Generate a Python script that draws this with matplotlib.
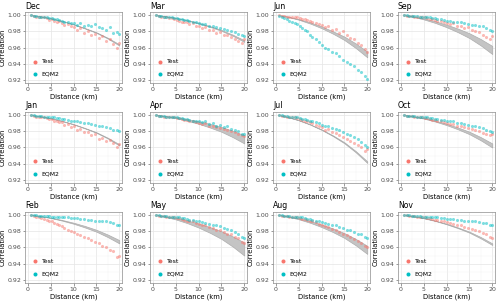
import matplotlib
matplotlib.use("Agg")
import matplotlib.pyplot as plt
from matplotlib.ticker import MultipleLocator

# panel order, row by row
months = ["Dec", "Mar", "Jun", "Sep",
          "Jan", "Apr", "Jul", "Oct",
          "Feb", "May", "Aug", "Nov"]

# station-pair distances (km), shared by all panels
dist = [0.8, 1.3, 1.9, 2.4, 3.0, 3.5, 4.1, 4.6, 5.2, 5.7, 6.3, 6.8, 7.4, 8.0, 8.7,
        9.4, 10.1, 10.8, 11.5, 12.3, 13.1, 13.9, 14.7, 15.5, 16.3, 17.1, 17.9, 18.7, 19.4, 19.9]

test = {
    "Dec": [0.9995,0.999,0.998,0.998,0.997,0.997,0.996,0.994,0.995,0.993,0.992,0.993,0.990,0.988,0.989,0.986,0.985,0.982,0.984,0.978,0.980,0.975,0.977,0.972,0.974,0.968,0.970,0.964,0.960,0.966],
    "Mar": [0.9995,0.999,0.998,0.998,0.997,0.996,0.996,0.995,0.994,0.993,0.992,0.991,0.992,0.989,0.990,0.986,0.987,0.984,0.985,0.981,0.982,0.978,0.979,0.976,0.975,0.973,0.971,0.968,0.965,0.970],
    "Jun": [1.000,0.999,0.999,0.998,0.998,0.998,0.997,0.997,0.996,0.995,0.995,0.994,0.993,0.992,0.990,0.989,0.988,0.985,0.986,0.982,0.983,0.978,0.980,0.975,0.972,0.970,0.966,0.963,0.958,0.955],
    "Sep": [1.000,0.999,0.999,0.999,0.998,0.998,0.998,0.997,0.997,0.996,0.995,0.995,0.994,0.993,0.993,0.991,0.990,0.989,0.990,0.986,0.987,0.984,0.985,0.982,0.980,0.979,0.976,0.973,0.970,0.974],
    "Jan": [0.9995,0.999,0.998,0.998,0.997,0.997,0.996,0.995,0.995,0.993,0.993,0.991,0.991,0.988,0.989,0.985,0.986,0.982,0.983,0.979,0.979,0.975,0.976,0.971,0.972,0.968,0.969,0.965,0.961,0.964],
    "Apr": [1.000,0.999,0.999,0.998,0.998,0.998,0.997,0.997,0.996,0.996,0.995,0.994,0.994,0.993,0.992,0.991,0.990,0.989,0.990,0.987,0.987,0.985,0.984,0.983,0.982,0.980,0.979,0.977,0.975,0.974],
    "Jul": [1.000,0.999,0.999,0.998,0.998,0.997,0.997,0.996,0.995,0.994,0.993,0.992,0.991,0.990,0.988,0.986,0.985,0.982,0.983,0.979,0.978,0.975,0.973,0.970,0.968,0.965,0.963,0.960,0.956,0.958],
    "Oct": [1.000,0.999,0.999,0.999,0.998,0.998,0.997,0.997,0.996,0.996,0.995,0.994,0.994,0.993,0.992,0.991,0.990,0.989,0.989,0.987,0.987,0.985,0.984,0.983,0.982,0.980,0.978,0.977,0.975,0.976],
    "Feb": [0.9995,0.999,0.998,0.997,0.996,0.995,0.994,0.993,0.992,0.990,0.989,0.987,0.986,0.984,0.982,0.980,0.979,0.977,0.975,0.973,0.971,0.969,0.967,0.965,0.962,0.960,0.957,0.955,0.948,0.950],
    "May": [1.000,0.999,0.999,0.999,0.998,0.998,0.997,0.997,0.996,0.996,0.995,0.994,0.993,0.993,0.992,0.990,0.989,0.988,0.987,0.985,0.984,0.982,0.981,0.979,0.977,0.976,0.973,0.971,0.967,0.966],
    "Aug": [1.000,0.999,0.999,0.999,0.998,0.998,0.997,0.997,0.996,0.995,0.995,0.994,0.993,0.992,0.991,0.989,0.988,0.986,0.985,0.983,0.981,0.979,0.977,0.975,0.973,0.970,0.968,0.966,0.962,0.960],
    "Nov": [1.000,1.000,0.999,0.999,0.999,0.998,0.998,0.997,0.997,0.996,0.996,0.995,0.994,0.994,0.993,0.992,0.991,0.990,0.989,0.988,0.987,0.985,0.984,0.983,0.981,0.980,0.978,0.976,0.973,0.971],
}

eqm2 = {
    "Dec": [0.9995,0.999,0.999,0.998,0.998,0.997,0.997,0.996,0.996,0.995,0.995,0.994,0.993,0.992,0.992,0.990,0.990,0.988,0.990,0.987,0.988,0.986,0.989,0.985,0.984,0.982,0.985,0.978,0.979,0.977],
    "Mar": [1.000,0.999,0.999,0.998,0.998,0.997,0.997,0.996,0.996,0.995,0.995,0.994,0.994,0.993,0.992,0.991,0.990,0.989,0.989,0.987,0.986,0.985,0.984,0.983,0.982,0.980,0.979,0.977,0.975,0.974],
    "Jun": [0.999,0.998,0.996,0.995,0.993,0.992,0.990,0.989,0.986,0.984,0.982,0.980,0.976,0.973,0.970,0.967,0.963,0.960,0.958,0.955,0.953,0.950,0.945,0.942,0.940,0.937,0.932,0.930,0.925,0.921],
    "Sep": [1.000,1.000,0.999,0.999,0.999,0.999,0.998,0.998,0.998,0.997,0.997,0.996,0.996,0.995,0.995,0.994,0.993,0.993,0.992,0.991,0.991,0.990,0.989,0.988,0.988,0.986,0.986,0.984,0.982,0.980],
    "Jan": [1.000,1.000,0.999,0.999,0.999,0.998,0.998,0.998,0.997,0.997,0.996,0.996,0.995,0.995,0.994,0.993,0.993,0.992,0.991,0.990,0.990,0.989,0.988,0.987,0.986,0.985,0.984,0.982,0.981,0.980],
    "Apr": [1.000,0.999,0.999,0.999,0.998,0.998,0.998,0.997,0.997,0.996,0.996,0.995,0.995,0.994,0.993,0.993,0.992,0.991,0.992,0.989,0.990,0.987,0.988,0.985,0.986,0.983,0.982,0.980,0.977,0.976],
    "Jul": [1.000,1.000,0.999,0.999,0.998,0.998,0.997,0.997,0.996,0.995,0.995,0.994,0.993,0.992,0.991,0.990,0.988,0.987,0.986,0.984,0.983,0.981,0.979,0.977,0.975,0.973,0.970,0.967,0.963,0.961],
    "Oct": [1.000,0.999,0.999,0.999,0.999,0.998,0.998,0.998,0.997,0.997,0.996,0.996,0.995,0.995,0.994,0.994,0.993,0.992,0.992,0.990,0.990,0.989,0.988,0.987,0.986,0.985,0.984,0.982,0.980,0.979],
    "Feb": [1.000,1.000,1.000,0.999,0.999,0.999,0.999,0.999,0.998,0.998,0.998,0.998,0.997,0.997,0.997,0.996,0.996,0.996,0.995,0.995,0.994,0.994,0.993,0.993,0.992,0.992,0.991,0.990,0.988,0.987],
    "May": [1.000,1.000,0.999,0.999,0.999,0.998,0.998,0.998,0.997,0.997,0.996,0.996,0.995,0.994,0.994,0.993,0.992,0.991,0.990,0.989,0.988,0.987,0.986,0.984,0.983,0.981,0.979,0.977,0.973,0.971],
    "Aug": [1.000,1.000,0.999,0.999,0.999,0.998,0.998,0.998,0.997,0.997,0.996,0.995,0.995,0.994,0.993,0.992,0.991,0.990,0.989,0.988,0.987,0.985,0.984,0.982,0.981,0.979,0.977,0.976,0.973,0.972],
    "Nov": [1.000,1.000,1.000,0.999,0.999,0.999,0.999,0.998,0.998,0.998,0.998,0.997,0.997,0.997,0.996,0.996,0.995,0.995,0.995,0.994,0.994,0.993,0.993,0.992,0.992,0.991,0.990,0.990,0.988,0.987],
}

# grey envelope of the theoretical curves
band_d = [1, 2.5, 5, 7.5, 10, 12.5, 15, 17.5, 20]
band_hi = {
    "Dec": [0.9996,0.9986,0.9960,0.9928,0.9888,0.9840,0.9788,0.9720,0.9640],
    "Mar": [0.9997,0.9988,0.9966,0.9938,0.9904,0.9864,0.9817,0.9758,0.9690],
    "Jun": [0.9996,0.9982,0.9950,0.9910,0.9860,0.9800,0.9735,0.9650,0.9550],
    "Sep": [0.9996,0.9985,0.9958,0.9924,0.9882,0.9833,0.9776,0.9704,0.9620],
    "Jan": [0.9996,0.9986,0.9960,0.9928,0.9888,0.9840,0.9788,0.9720,0.9640],
    "Apr": [0.9998,0.9990,0.9973,0.9950,0.9923,0.9890,0.9853,0.9805,0.9750],
    "Jul": [0.9994,0.9977,0.9937,0.9886,0.9823,0.9749,0.9664,0.9555,0.9430],
    "Oct": [0.9997,0.9986,0.9962,0.9930,0.9892,0.9846,0.9794,0.9727,0.9650],
    "Feb": [0.9997,0.9988,0.9966,0.9938,0.9904,0.9864,0.9817,0.9758,0.9690],
    "May": [0.9997,0.9986,0.9963,0.9932,0.9895,0.9850,0.9799,0.9735,0.9660],
    "Aug": [0.9996,0.9985,0.9958,0.9924,0.9882,0.9833,0.9776,0.9704,0.9620],
    "Nov": [0.9997,0.9986,0.9962,0.9930,0.9892,0.9846,0.9794,0.9727,0.9650],
}
band_lo = {
    "Dec": [0.9996,0.9985,0.9958,0.9925,0.9884,0.9835,0.9781,0.9711,0.9625],
    "Mar": [0.9996,0.9986,0.9962,0.9933,0.9897,0.9855,0.9806,0.9745,0.9670],
    "Jun": [0.9995,0.9979,0.9943,0.9896,0.9839,0.9771,0.9693,0.9594,0.9480],
    "Sep": [0.9995,0.9981,0.9947,0.9904,0.9851,0.9789,0.9717,0.9626,0.9520],
    "Jan": [0.9996,0.9985,0.9958,0.9925,0.9884,0.9835,0.9781,0.9711,0.9625],
    "Apr": [0.9997,0.9986,0.9962,0.9930,0.9892,0.9846,0.9794,0.9727,0.9650],
    "Jul": [0.9994,0.9976,0.9935,0.9882,0.9817,0.9740,0.9652,0.9540,0.9410],
    "Oct": [0.9996,0.9984,0.9956,0.9920,0.9876,0.9824,0.9764,0.9688,0.9600],
    "Feb": [0.9997,0.9986,0.9962,0.9930,0.9892,0.9846,0.9794,0.9727,0.9650],
    "May": [0.9995,0.9980,0.9945,0.9900,0.9845,0.9780,0.9705,0.9610,0.9500],
    "Aug": [0.9995,0.9981,0.9947,0.9904,0.9851,0.9789,0.9717,0.9626,0.9520],
    "Nov": [0.9996,0.9985,0.9959,0.9926,0.9885,0.9837,0.9782,0.9711,0.9630],
}

C_TEST = "#F8766D"
C_EQM2 = "#00BFC4"

fig = plt.figure(figsize=(5.0, 3.01), dpi=100)

col_left = [0.05, 0.30, 0.546, 0.796]
row_bottom = [0.724, 0.392, 0.060]
w, h = 0.194, 0.236

for i, m in enumerate(months):
    r, c = divmod(i, 4)
    ax = fig.add_axes([col_left[c], row_bottom[r], w, h])
    ax.set_axisbelow(True)
    ax.fill_between(band_d, band_lo[m], band_hi[m], color="#C4C4C4", lw=0.5,
                    edgecolor="#ADADAD", zorder=1)
    ax.scatter(dist, test[m], s=5, color=C_TEST, alpha=0.5, lw=0, zorder=2, label="Test")
    ax.scatter(dist, eqm2[m], s=5, color=C_EQM2, alpha=0.5, lw=0, zorder=3, label="EQM2")

    ax.set_xlim(-0.6, 20.6)
    ax.set_ylim(0.9163, 1.0037)
    ax.xaxis.set_major_locator(MultipleLocator(5))
    ax.xaxis.set_minor_locator(MultipleLocator(2.5))
    ax.yaxis.set_minor_locator(MultipleLocator(0.01))
    ax.set_yticks([0.92, 0.94, 0.96, 0.98, 1.00])
    ax.set_yticklabels(["0.92", "0.94", "0.96", "0.98", "1.00"])
    ax.grid(which="major", color="#E5E5E5", lw=0.5)
    ax.grid(which="minor", color="#F2F2F2", lw=0.3)
    ax.tick_params(which="major", labelsize=4.5, colors="#4D4D4D", length=1.8, width=0.4, pad=1)
    ax.tick_params(which="minor", length=0)
    for s in ax.spines.values():
        s.set_color("#8C8C8C")
        s.set_linewidth(0.5)
    ax.set_xlabel("Distance (km)", fontsize=4.9, labelpad=1)
    ax.set_ylabel("Correlation", fontsize=4.9, labelpad=1.5)
    ax.set_title(m, fontsize=5.6, loc="left", pad=2.5)
    leg = ax.legend(loc="lower left", bbox_to_anchor=(0.02, 0.02), fontsize=4.4,
                    frameon=False, handlelength=1.0, handletextpad=0.6,
                    labelspacing=1.2, markerscale=1.3, borderpad=0.3)
    for lh in leg.legend_handles:
        lh.set_alpha(1)

fig.savefig("out.png", dpi=100, facecolor="white")
